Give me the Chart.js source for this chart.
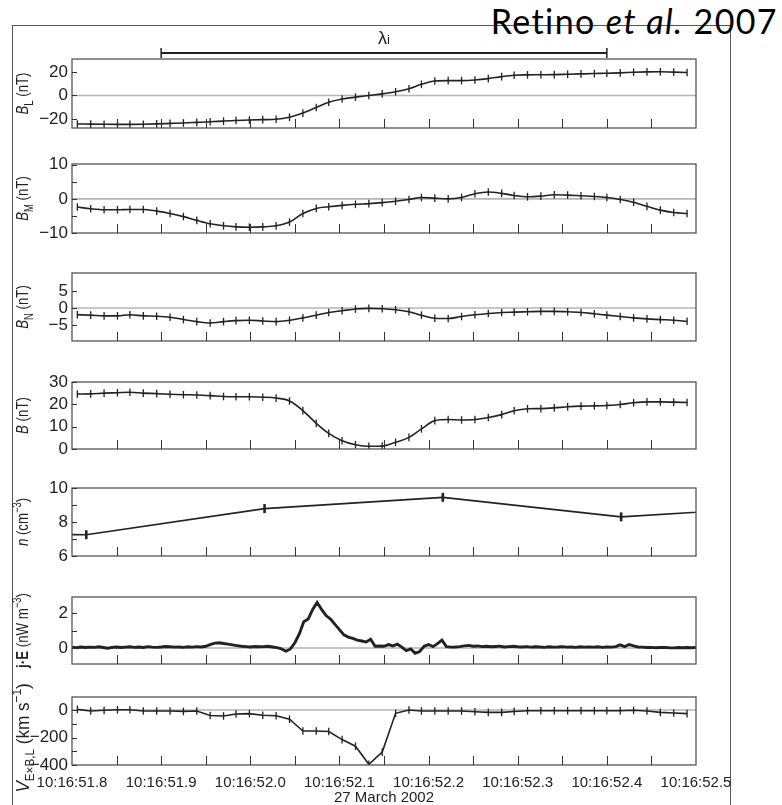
<!DOCTYPE html>
<html><head><meta charset="utf-8">
<script src="https://cdn.jsdelivr.net/npm/chart.js@4.4.1/dist/chart.umd.min.js"></script>
<style>
html,body{margin:0;padding:0;background:#fff;}
#wrap{position:relative;width:782px;height:805px;overflow:hidden;background:#fff;}
#frame{position:absolute;left:12px;top:25px;width:717px;height:800px;border:1px solid #555;border-bottom:none;}
#cite{position:absolute;right:4px;top:4px;font-family:Lato,"Open Sans",sans-serif;font-size:34px;line-height:34px;letter-spacing:1.4px;color:#000;white-space:nowrap;}
canvas{position:absolute;left:0;top:0;}
</style></head><body>
<div id="wrap">
<div id="frame"></div>
<div id="cite">Retino <i>et al.</i> 2007</div>
<canvas id="c0" width="782" height="805"></canvas>
<canvas id="c1" width="782" height="805"></canvas>
<canvas id="c2" width="782" height="805"></canvas>
<canvas id="c3" width="782" height="805"></canvas>
<canvas id="c4" width="782" height="805"></canvas>
<canvas id="c5" width="782" height="805"></canvas>
<canvas id="c6" width="782" height="805"></canvas>
</div>
<script>
// ---- time axis (seconds after 10:16) ----
const xTickVals = [51.8,51.85,51.9,51.95,52.0,52.05,52.1,52.15,52.2,52.25,52.3,52.35,52.4,52.45,52.5];
const xTickLabels = ['10:16:51.8','','10:16:51.9','','10:16:52.0','','10:16:52.1','','10:16:52.2','','10:16:52.3','','10:16:52.4','','10:16:52.5'];
const xAxisTitle = '27 March 2002';

// ---- magnetic field / velocity sample times ----
const tB = [51.806,51.821,51.836,51.851,51.865,51.880,51.895,51.910,51.925,51.940,
51.955,51.970,51.984,51.999,52.014,52.029,52.044,52.059,52.074,52.088,
52.103,52.118,52.133,52.148,52.163,52.178,52.192,52.207,52.222,52.237,
52.252,52.267,52.282,52.296,52.311,52.326,52.341,52.356,52.371,52.386,
52.400,52.415,52.430,52.445,52.460,52.475,52.490];

const BL = [-24.3,-24.4,-24.5,-24.6,-24.6,-24.5,-24.2,-23.8,-23.4,-22.9,
-22.4,-21.8,-21.3,-20.9,-20.6,-20.3,-18.5,-15.0,-10.2,-5.8,
-3.0,-1.4,0.0,1.4,3.2,5.8,9.5,12.4,12.7,12.7,
13.2,14.4,16.1,17.3,17.6,17.7,17.8,18.1,18.4,18.7,
19.0,19.3,19.8,20.1,20.2,19.9,19.6];

const BM = [-2.4,-2.9,-3.2,-3.2,-3.1,-3.1,-3.6,-4.3,-5.2,-6.3,
-7.3,-7.9,-8.2,-8.3,-8.2,-7.9,-6.8,-4.3,-2.8,-2.3,
-1.9,-1.6,-1.4,-1.1,-0.7,-0.2,0.4,0.2,0.0,0.4,
1.5,2.0,1.6,1.0,0.6,0.8,1.2,1.1,0.9,0.7,
0.4,-0.2,-1.0,-2.2,-3.3,-4.0,-4.3];

const BN = [-2.0,-2.1,-2.3,-2.3,-2.0,-2.3,-2.4,-2.7,-3.4,-4.0,
-4.4,-4.0,-3.7,-3.6,-3.8,-4.0,-3.6,-2.9,-2.1,-1.3,
-0.8,-0.3,-0.1,-0.2,-0.5,-1.1,-2.1,-3.0,-3.1,-2.5,
-2.0,-1.6,-1.3,-1.2,-1.1,-1.0,-1.0,-1.1,-1.3,-1.7,
-2.1,-2.5,-2.9,-3.2,-3.4,-3.6,-3.9];

const Bmag = [24.6,24.7,25.0,25.2,25.4,25.0,24.8,24.5,24.3,24.2,
23.9,23.5,23.4,23.4,23.2,22.8,21.5,17.2,11.5,7.0,
3.7,1.9,1.2,1.3,3.0,5.2,9.0,12.7,13.2,13.0,
13.2,14.1,15.4,17.1,18.0,18.1,18.4,18.9,19.2,19.3,
19.5,19.9,20.7,21.1,21.1,21.0,20.8];

const VExB = [5,-7,-2,2,2,-7,-7,-7,-10,-7,
-40,-43,-29,-26,-38,-41,-67,-153,-153,-156,
-215,-263,-395,-306,-24,0,-7,-7,-7,-7,
-12,-17,-17,-10,-5,-5,-5,-5,-5,-5,
-5,-5,-2,-7,-17,-22,-26];

// ---- density (spin resolution) ----
const tN = [51.616,51.816,52.016,52.216,52.416,52.616];
const nVal = [7.3,7.25,8.79,9.45,8.30,8.95];

// ---- j.E ----
const tJE = [51.800,51.805,51.810,51.815,51.820,51.825,51.830,51.835,51.840,51.845,
51.850,51.855,51.860,51.865,51.870,51.875,51.880,51.885,51.890,51.895,
51.900,51.905,51.910,51.915,51.920,51.925,51.930,51.935,51.940,51.945,
51.950,51.955,51.960,51.965,51.970,51.975,51.980,51.985,51.990,51.995,
52.000,52.005,52.010,52.015,52.020,52.025,52.030,52.035,52.040,52.045,
52.050,52.055,52.060,52.065,52.070,52.075,52.080,52.085,52.090,52.095,
52.100,52.105,52.110,52.115,52.120,52.125,52.130,52.135,52.140,52.145,
52.150,52.155,52.160,52.165,52.170,52.175,52.180,52.185,52.190,52.195,
52.200,52.205,52.210,52.215,52.220,52.225,52.230,52.235,52.240,52.245,
52.250,52.255,52.260,52.265,52.270,52.275,52.280,52.285,52.290,52.295,
52.300,52.305,52.310,52.315,52.320,52.325,52.330,52.335,52.340,52.345,
52.350,52.355,52.360,52.365,52.370,52.375,52.380,52.385,52.390,52.395,
52.400,52.405,52.410,52.415,52.420,52.425,52.430,52.435,52.440,52.445,
52.450,52.455,52.460,52.465,52.470,52.475,52.480,52.485,52.490,52.495,52.500];
const jE = [0.05,0.02,0.06,0.03,0.05,0.04,0.07,0.03,-0.01,0.04,
0.06,0.03,0.05,0.07,0.04,0.06,0.03,0.08,0.05,0.04,
0.06,0.09,0.07,0.05,0.06,0.04,0.07,0.05,0.08,0.06,
0.10,0.20,0.28,0.30,0.26,0.22,0.18,0.14,0.10,0.08,
0.06,0.09,0.07,0.08,0.10,0.06,0.02,-0.05,-0.18,-0.05,
0.30,0.80,1.50,1.65,2.20,2.60,2.20,1.85,1.65,1.35,
1.05,0.75,0.62,0.55,0.45,0.40,0.35,0.50,0.10,0.12,
0.10,0.20,0.12,0.22,0.05,-0.15,-0.05,-0.30,-0.20,0.10,
0.20,0.08,0.25,0.45,0.08,0.05,0.06,0.08,0.12,0.15,
0.10,0.12,0.08,0.10,0.07,0.09,0.11,0.06,0.08,0.10,
0.07,0.06,0.08,0.05,0.07,0.06,0.04,0.07,0.05,0.06,
0.08,0.05,0.06,0.04,0.07,0.05,0.06,0.05,0.07,0.04,
0.06,0.05,0.08,0.18,0.08,0.20,0.12,0.06,0.05,0.03,
0.04,0.02,0.03,0.04,0.02,0.01,0.03,0.02,0.03,0.02,0.04];

// ---- y tick values (labelled + minor) ----
const yTicksBL = [-20,0,20],      yLabBL = [-20,0,20];
const yTicksBM = [-10,-5,0,5,10], yLabBM = [-10,0,10];
const yTicksBN = [-5,0,5],        yLabBN = [-5,0,5];
const yTicksB  = [0,10,20,30],    yLabB  = [0,10,20,30];
const yTicksN  = [6,7,8,9,10],    yLabN  = [6,8,10];
const yTicksJE = [0,1,2],         yLabJE = [0,2];
const yTicksV  = [-400,-300,-200,-100,0], yLabV = [-400,-200,0];

const lambdaRange = [51.9, 52.4];

const SANS = '"Liberation Sans",Arial,sans-serif';
const INK = '#222';
const BOX = '#555';

function fmt(v){ return v < 0 ? '\u2212' + Math.abs(v) : String(v); }
function pts(xs, ys){ return xs.map((x,i)=>({x:x, y:ys[i]})); }

// rotated title with sub/superscripts, horizontally condensed like the original's narrow face
function drawRich(ctx, cx, cy, segs, size, squeeze){
  ctx.save();
  ctx.translate(cx, cy); ctx.rotate(-Math.PI/2); ctx.scale(squeeze, 1);
  const parts = segs.map(s=>{
    const small = s.sub || s.sup;
    const sz = small ? Math.round(size*0.7) : size;
    const font = (s.it?'italic ':'') + (s.b?'bold ':'') + sz + 'px ' + SANS;
    ctx.font = font;
    return {t:s.t, font:font, w:ctx.measureText(s.t).width, dy: s.sub ? size*0.28 : (s.sup ? -size*0.4 : 0)};
  });
  const total = parts.reduce((a,p)=>a+p.w,0);
  let x = -total/2;
  ctx.fillStyle = INK; ctx.textBaseline = 'alphabetic';
  for (const p of parts){ ctx.font = p.font; ctx.fillText(p.t, x, size*0.36 + p.dy); x += p.w; }
  ctx.restore();
}

const panels = [
 {id:'c0', top:59, bottom:128, min:-27.7, max:31.1, ticks:yTicksBL, labs:yLabBL, zero:true, lambda:true,
  title:[{t:'B',it:1},{t:'L',sub:1},{t:' (nT)'}], tsize:17, tsq:0.78, toff:0,
  ds:[{data:pts(tB,BL), kind:'plus', smooth:true}]},
 {id:'c1', top:164, bottom:233, min:-10, max:10.2, ticks:yTicksBM, labs:yLabBM, zero:true,
  title:[{t:'B',it:1},{t:'M',sub:1},{t:' (nT)'}], tsize:17, tsq:0.78, toff:0,
  ds:[{data:pts(tB,BM), kind:'plus', smooth:true}]},
 {id:'c2', top:273, bottom:341, min:-9.7, max:10.3, ticks:yTicksBN, labs:yLabBN, zero:true,
  title:[{t:'B',it:1},{t:'N',sub:1},{t:' (nT)'}], tsize:17, tsq:0.78, toff:0,
  ds:[{data:pts(tB,BN), kind:'plus', smooth:true}]},
 {id:'c3', top:382, bottom:449, min:0, max:30, ticks:yTicksB, labs:yLabB, zero:false,
  title:[{t:'B',it:1},{t:' (nT)'}], tsize:17, tsq:0.78, toff:0,
  ds:[{data:pts(tB,Bmag), kind:'plus', smooth:true}]},
 {id:'c4', top:488, bottom:556, min:6, max:10, ticks:yTicksN, labs:yLabN, zero:false,
  title:[{t:'n',it:1},{t:' (cm'},{t:'\u22123',sup:1},{t:')'}], tsize:17, tsq:0.78, toff:0,
  ds:[{data:pts(tN,nVal), kind:'bar'}]},
 {id:'c5', top:597, bottom:664, min:-0.91, max:2.91, ticks:yTicksJE, labs:yLabJE, zero:true,
  title:[{t:'j\u00b7E',b:1},{t:' (nW m'},{t:'\u22123',sup:1},{t:')'}], tsize:17, tsq:0.78, toff:0,
  ds:[{data:pts(tJE,jE), kind:'noise'}]},
 {id:'c6', top:697, bottom:765, min:-400, max:95, ticks:yTicksV, labs:yLabV, zero:true, showX:true,
  title:[{t:'V',it:1},{t:'E\u00d7B,L',sub:1},{t:' (km s'},{t:'\u22121',sup:1},{t:')'}], tsize:19, tsq:0.9, toff:7,
  ds:[{data:pts(tB,VExB), kind:'plus', smooth:false}]}
];

function makeDataset(d){
  const base = {data:d.data, borderColor:INK, pointBorderColor:INK, pointBackgroundColor:INK, fill:false};
  if (d.kind === 'plus') return Object.assign(base, {borderWidth:1.6, pointStyle:'line', pointRotation:90,
     pointRadius:3.8, pointBorderWidth:1.3, cubicInterpolationMode: d.smooth ? 'monotone' : 'default', tension:0});
  if (d.kind === 'bar') return Object.assign(base, {borderWidth:1.7, pointStyle:'line', pointRotation:90,
     pointRadius:4.5, pointBorderWidth:2.6, tension:0});
  return Object.assign(base, {borderWidth:2.9, pointRadius:0, tension:0});
}

panels.forEach(p=>{
  const deco = {
    id:'deco'+p.id,
    beforeDatasetsDraw(chart){
      const a = chart.chartArea, ctx = chart.ctx, ys = chart.scales.y;
      if (p.zero){
        const y0 = ys.getPixelForValue(0);
        ctx.save(); ctx.strokeStyle = '#b4b4b4'; ctx.lineWidth = 1.6;
        ctx.beginPath(); ctx.moveTo(a.left, y0); ctx.lineTo(a.right, y0); ctx.stroke(); ctx.restore();
      }
    },
    afterDatasetsDraw(chart){
      const a = chart.chartArea, ctx = chart.ctx, xs = chart.scales.x, ys = chart.scales.y;
      ctx.save();
      ctx.strokeStyle = BOX; ctx.lineWidth = 1.3;
      ctx.strokeRect(a.left, a.top, a.right - a.left, a.bottom - a.top);
      ctx.strokeStyle = '#333'; ctx.lineWidth = 1;
      xTickVals.forEach(v=>{
        if (v <= xs.min || v >= xs.max) return;
        const x = Math.round(xs.getPixelForValue(v)) + 0.5;
        ctx.beginPath(); ctx.moveTo(x, a.bottom); ctx.lineTo(x, a.bottom - 9); ctx.stroke();
      });
      p.ticks.forEach(v=>{
        const y = Math.round(ys.getPixelForValue(v)) + 0.5;
        ctx.beginPath(); ctx.moveTo(a.left, y); ctx.lineTo(a.left + 5, y); ctx.stroke();
      });
      if (p.lambda){
        const x1 = xs.getPixelForValue(lambdaRange[0]), x2 = xs.getPixelForValue(lambdaRange[1]);
        const yb = 53;
        ctx.strokeStyle = INK; ctx.lineWidth = 2;
        ctx.beginPath(); ctx.moveTo(x1, yb); ctx.lineTo(x2, yb); ctx.stroke();
        ctx.lineWidth = 1.5;
        ctx.beginPath(); ctx.moveTo(x1, yb-5); ctx.lineTo(x1, yb+5); ctx.moveTo(x2, yb-5); ctx.lineTo(x2, yb+5); ctx.stroke();
        const xm = (x1 + x2)/2;
        ctx.fillStyle = INK; ctx.textBaseline = 'alphabetic';
        ctx.font = '18px ' + SANS;
        const w1 = ctx.measureText('\u03bb').width;
        ctx.font = '13px ' + SANS;
        const w2 = ctx.measureText('i').width;
        ctx.font = '18px ' + SANS;
        ctx.fillText('\u03bb', xm - (w1+w2)/2, 44);
        ctx.font = '13px ' + SANS;
        ctx.fillText('i', xm - (w1+w2)/2 + w1, 44);
      }
      drawRich(ctx, 22, (a.top + a.bottom)/2 + p.toff, p.title, p.tsize, p.tsq);
      ctx.restore();
    }
  };
  new Chart(document.getElementById(p.id), {
    type:'line',
    data:{datasets: p.ds.map(makeDataset)},
    options:{
      responsive:false, animation:false, devicePixelRatio:1,
      layout:{padding:{left:0, right:86, top:p.top, bottom: p.showX ? 0 : 805 - p.bottom}},
      plugins:{legend:{display:false}, tooltip:{enabled:false}},
      scales:{
        x:{type:'linear', min:51.8, max:52.5, display: !!p.showX,
           afterBuildTicks(s){ s.ticks = xTickVals.map(v=>({value:v})); },
           afterFit(s){ if (p.showX) s.height = 40; },
           grid:{display:false, drawTicks:false}, border:{display:false},
           ticks:{autoSkip:false, maxRotation:0, minRotation:0, padding:9, color:INK,
                  font:{family:SANS, size:15},
                  callback(v, i){ return xTickLabels[i]; }},
           title:{display:true, text:xAxisTitle, color:INK, font:{family:SANS, size:15}, padding:{top:0, bottom:-2}}},
        y:{type:'linear', min:p.min, max:p.max,
           afterBuildTicks(s){ s.ticks = p.ticks.map(v=>({value:v})); },
           afterFit(s){ s.width = 72; },
           grid:{display:false, drawTicks:false}, border:{display:false},
           ticks:{autoSkip:false, padding:4, color:INK, font:{family:SANS, size:17},
                  callback(v){ return p.labs.includes(v) ? fmt(v) : ''; }}}
      }
    },
    plugins:[deco]
  });
});
</script>
</body></html>
